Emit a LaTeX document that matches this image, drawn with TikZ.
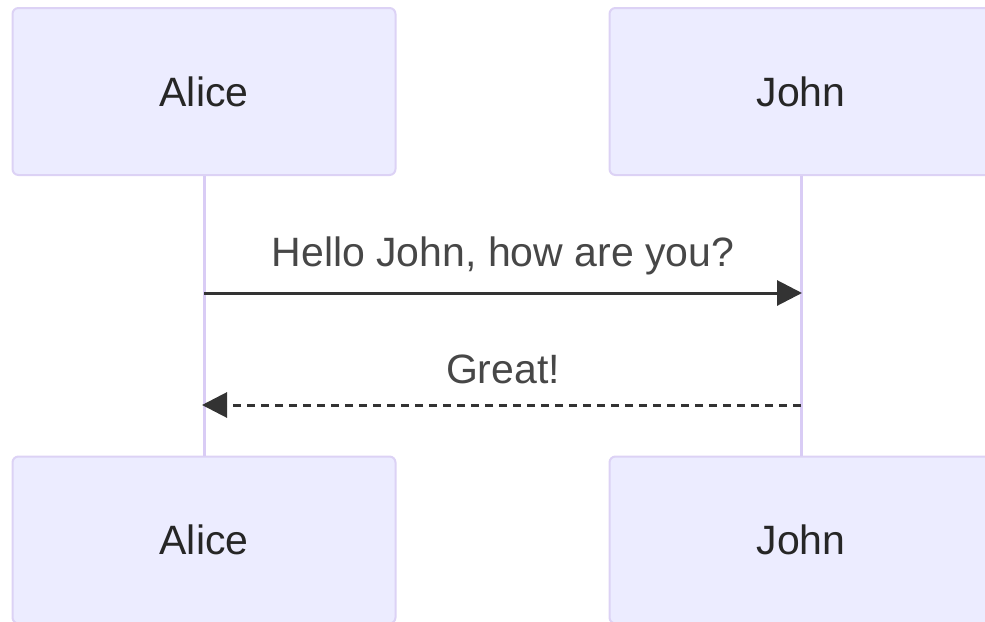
\documentclass[tikz,border=0pt]{standalone}
\usepackage{fontspec}
\setmainfont{Liberation Sans}
\usetikzlibrary{arrows.meta}
\definecolor{actorfill}{HTML}{ECECFF}
\definecolor{actorline}{HTML}{DCD2F5}
\definecolor{lifeline}{HTML}{D9CCF5}
\definecolor{msgline}{HTML}{333333}
\tikzset{
  actor/.style={draw=actorline, fill=actorfill, line width=2pt, rounded corners=6pt,
    minimum width=383pt, minimum height=167pt, inner sep=0pt,
    font=\fontsize{41}{48}\selectfont, text=black!85},
  life/.style={draw=lifeline, line width=3pt},
  msg/.style={draw=msgline, line width=3pt, -{Triangle[length=25pt,width=25pt]}},
  msglabel/.style={font=\fontsize{41}{48}\selectfont, text=msgline!90, anchor=base},
}
\begin{document}
\begin{tikzpicture}[x=1pt,y=-1pt]
\useasboundingbox (0,0) rectangle (985,621);
\node[actor] (aliceTop) at (204,91.5) {Alice};
\node[actor] (johnTop) at (801,91.5) {John};
\node[actor] (aliceBot) at (204,540) {Alice};
\node[actor] (johnBot) at (801,540) {John};
\draw[life] (aliceTop.south) -- (aliceBot.north);
\draw[life] (johnTop.south) -- (johnBot.north);
\coordinate (a1) at (204,293);
\coordinate (j1) at (802,293);
\coordinate (j2) at (801,405);
\coordinate (a2) at (202,405);
\draw[msg] (a1) -- (j1);
\draw[msg, dash pattern=on 8pt off 6pt] (j2) -- (a2);
\node[msglabel] (m1) at (503,266) {Hello John, how are you?};
\node[msglabel] (m2) at (503,383) {Great!};
\end{tikzpicture}
\end{document}
